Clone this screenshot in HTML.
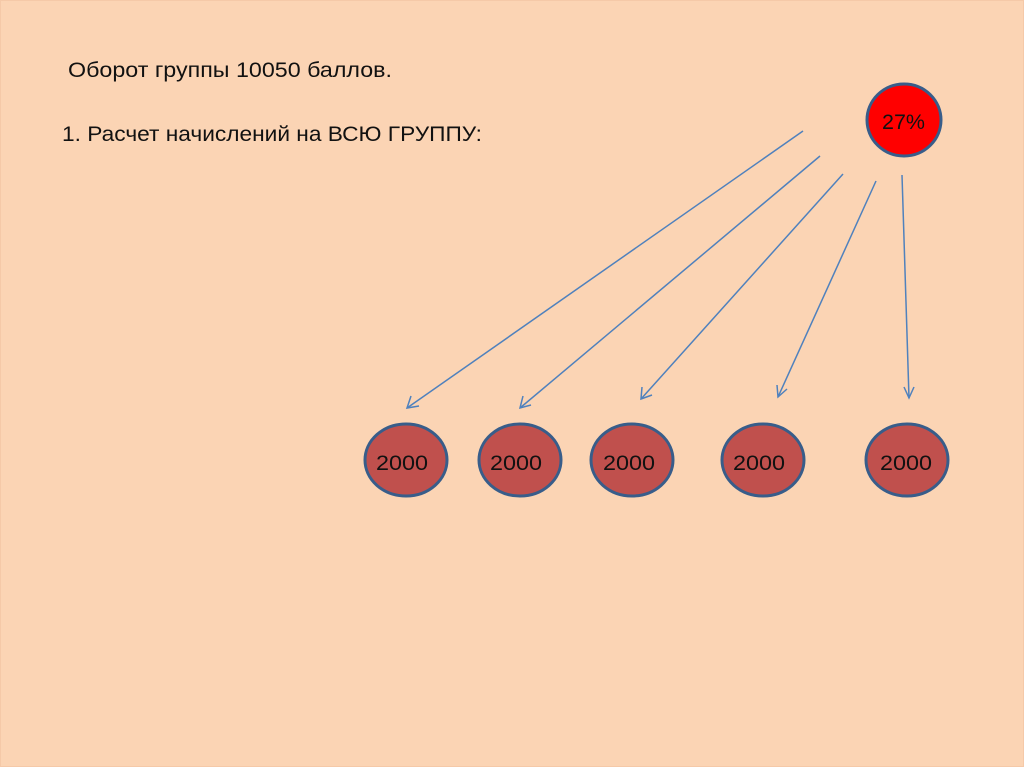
<!DOCTYPE html>
<html><head><meta charset="utf-8"><style>
html,body{margin:0;padding:0;background:#fbd4b4;}
svg{display:block}
</style></head><body>
<svg width="1024" height="767" xmlns="http://www.w3.org/2000/svg" font-family="'Liberation Sans', sans-serif">
<rect x="0" y="0" width="1024" height="767" fill="#fbd4b4"/>
<rect x="0.5" y="0.5" width="1023" height="766" fill="none" stroke="#f5c9a8" stroke-width="1"/>
<text x="68" y="77" font-size="21" fill="#111" textLength="324" lengthAdjust="spacingAndGlyphs">Оборот группы 10050 баллов.</text>
<text x="62" y="141" font-size="21" fill="#111" textLength="420" lengthAdjust="spacingAndGlyphs">1. Расчет начислений на ВСЮ ГРУППУ:</text>
<g stroke="#4f81bd" stroke-width="1.5" fill="none">
<line x1="803" y1="131" x2="407" y2="408"/>
<polyline points="411,396 407,408 419,406"/>
<line x1="820" y1="156" x2="520" y2="408"/>
<polyline points="523,396 520,408 531,405"/>
<line x1="843" y1="174" x2="641" y2="399"/>
<polyline points="642,387 641,399 652,395"/>
<line x1="876" y1="181" x2="778" y2="397"/>
<polyline points="777,385 778,397 787,389"/>
<line x1="902" y1="175" x2="909" y2="398"/>
<polyline points="904,387 909,398 914,387"/>
</g>
<ellipse cx="904" cy="120" rx="37" ry="36" fill="#ff0000" stroke="#385d8a" stroke-width="3"/>
<text x="882" y="129" font-size="21" fill="#111" textLength="43" lengthAdjust="spacingAndGlyphs">27%</text>
<g fill="#c0504d" stroke="#385d8a" stroke-width="3">
<ellipse cx="406" cy="460" rx="41" ry="36"/>
<ellipse cx="520" cy="460" rx="41" ry="36"/>
<ellipse cx="632" cy="460" rx="41" ry="36"/>
<ellipse cx="763" cy="460" rx="41" ry="36"/>
<ellipse cx="907" cy="460" rx="41" ry="36"/>
</g>
<g font-size="21" fill="#111">
<text x="376" y="470" textLength="52" lengthAdjust="spacingAndGlyphs">2000</text>
<text x="490" y="470" textLength="52" lengthAdjust="spacingAndGlyphs">2000</text>
<text x="603" y="470" textLength="52" lengthAdjust="spacingAndGlyphs">2000</text>
<text x="733" y="470" textLength="52" lengthAdjust="spacingAndGlyphs">2000</text>
<text x="880" y="470" textLength="52" lengthAdjust="spacingAndGlyphs">2000</text>
</g>
</svg>
</body></html>
